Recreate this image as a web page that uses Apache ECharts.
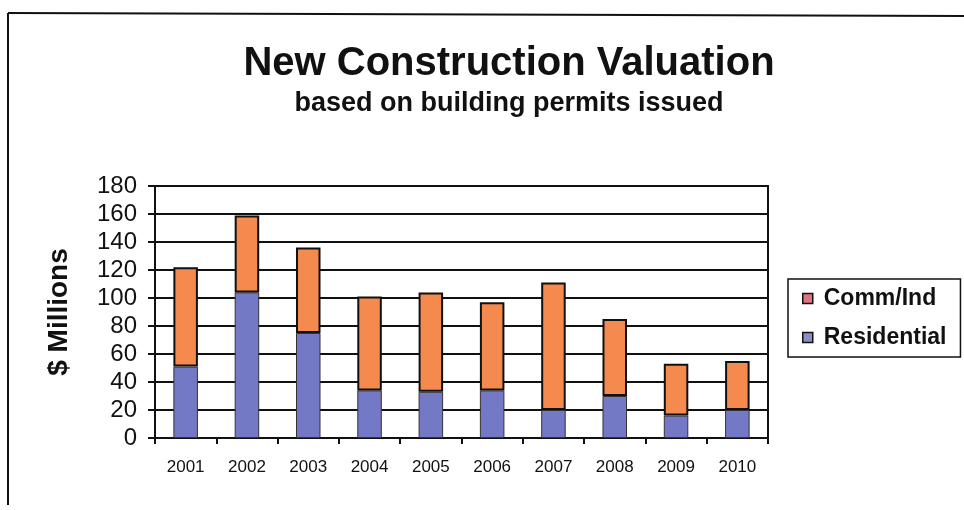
<!DOCTYPE html>
<html>
<head>
<meta charset="utf-8">
<script src="https://cdn.jsdelivr.net/npm/echarts@6/dist/echarts.min.js"></script>
<style>
  html, body { margin: 0; padding: 0; background: #fff; }
  #chart { width: 964px; height: 510px; }
</style>
</head>
<body>
<div id="chart"></div>
<script>
// years on the x axis
var years = ['2001', '2002', '2003', '2004', '2005', '2006', '2007', '2008', '2009', '2010'];
// $ millions
var residential = [51, 104, 75, 34, 33, 34, 20, 30, 16, 20];
var commInd = [71, 55, 61, 67, 71, 63, 91, 55, 37, 35];

var font = '"Liberation Sans", Arial, sans-serif';
var ink = '#111';

var chart = echarts.init(document.getElementById('chart'));

chart.setOption({
	backgroundColor: '#fff',
	animation: false,
	title: [{
		text: 'New Construction Valuation',
		left: 504,
		top: 39,
		textAlign: 'center',
		textStyle: { fontFamily: font, fontSize: 40, fontWeight: 'bold', color: ink }
	}, {
		text: 'based on building permits issued',
		left: 504,
		top: 85,
		textAlign: 'center',
		textStyle: { fontFamily: font, fontSize: 27, fontWeight: 'bold', color: ink }
	}],
	legend: {
		orient: 'vertical',
		left: 788,
		top: 279,
		padding: [8, 14, 8, 14],
		itemGap: 16,
		itemWidth: 10,
		itemHeight: 10,
		icon: 'rect',
		borderColor: ink,
		borderWidth: 1.5,
		data: [{
			name: 'Comm/Ind',
			itemStyle: { color: '#dc7480', borderColor: ink, borderWidth: 1.5 }
		}, {
			name: 'Residential',
			itemStyle: { color: '#8a8fbf', borderColor: ink, borderWidth: 1.5 }
		}],
		textStyle: { fontFamily: font, fontSize: 23, fontWeight: 'bold', color: ink, padding: [0, 0, 0, 6] }
	},
	grid: {
		left: 155,
		right: 196,
		top: 186,
		bottom: 72,
		show: true,
		borderColor: ink,
		borderWidth: 2
	},
	xAxis: {
		type: 'category',
		data: years,
		axisLine: { lineStyle: { color: ink, width: 2 } },
		axisTick: { show: true, length: 6, lineStyle: { color: ink, width: 2 } },
		axisLabel: { fontFamily: font, fontSize: 17, color: ink, margin: 21 }
	},
	yAxis: {
		type: 'value',
		min: 0,
		max: 180,
		interval: 20,
		name: '$ Millions',
		nameLocation: 'middle',
		nameGap: 82,
		nameTextStyle: { fontFamily: font, fontSize: 28, fontWeight: 'bold', color: ink },
		axisLine: { show: true, lineStyle: { color: ink, width: 2 } },
		axisTick: { show: true, length: 7, lineStyle: { color: ink, width: 2 } },
		axisLabel: { fontFamily: font, fontSize: 24, color: ink, margin: 18 },
		splitLine: { lineStyle: { color: ink, width: 2 } }
	},
	series: [{
		name: 'Residential',
		type: 'bar',
		stack: 'total',
		barWidth: '40%',
		data: residential,
		itemStyle: { color: '#7479c6', borderColor: '#333', borderWidth: 1 }
	}, {
		name: 'Comm/Ind',
		type: 'bar',
		stack: 'total',
		barWidth: '40%',
		data: commInd,
		itemStyle: { color: '#f58a4e', borderColor: ink, borderWidth: 2 }
	}],
	graphic: [{
		type: 'line',
		shape: { x1: 8, y1: 13, x2: 964, y2: 16 },
		style: { stroke: ink, lineWidth: 2 }
	}, {
		type: 'line',
		shape: { x1: 8, y1: 13, x2: 8, y2: 505 },
		style: { stroke: ink, lineWidth: 2 }
	}]
});
</script>
</body>
</html>
